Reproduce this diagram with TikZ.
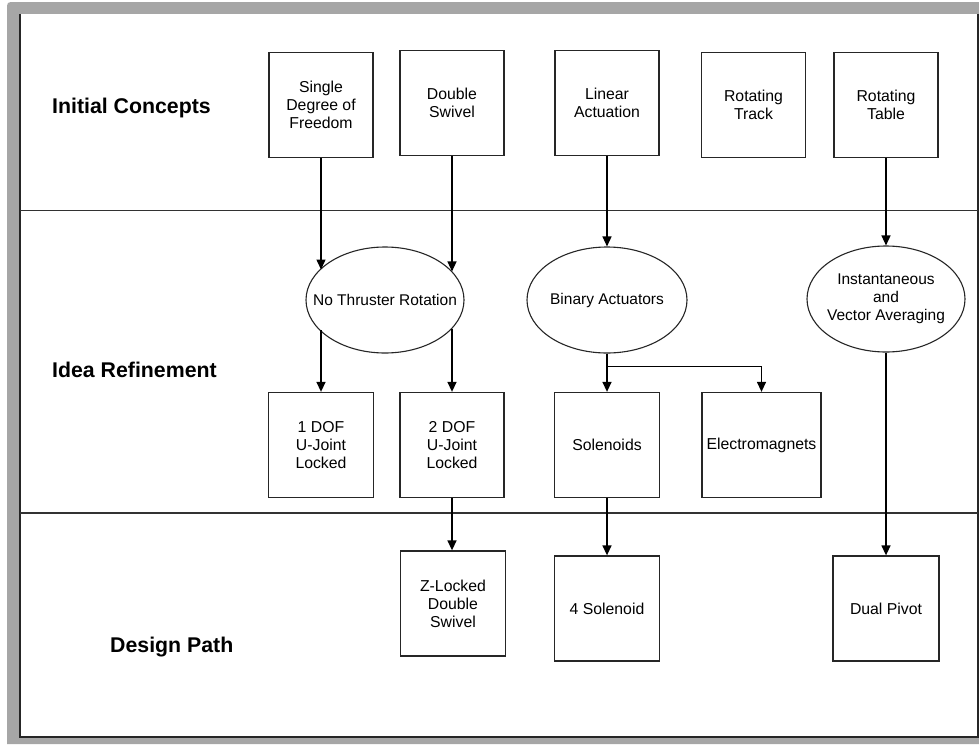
\documentclass[tikz,border=0pt]{standalone}
\usepackage{fontspec}
\setmainfont{Liberation Sans}
\usetikzlibrary{arrows.meta,shapes.geometric}
\definecolor{framegray}{RGB}{166,166,166}
\definecolor{lanegray}{RGB}{50,50,50}
\tikzset{
  stepbox/.style={draw=black!85, line width=1.3pt, rectangle, minimum width=104pt, minimum height=105pt,
    inner sep=2pt, align=center, font=\fontsize{15.8}{18}\selectfont},
  oval/.style={draw=black!85, line width=1.1pt, ellipse, inner sep=0pt, minimum width=158pt, minimum height=106pt},
  ovaltext/.style={align=center, inner sep=0pt, font=\fontsize{15.5}{18}\selectfont},
  lanelabel/.style={anchor=west, inner sep=0pt, font=\fontsize{21.3}{25}\selectfont\bfseries},
  laneline/.style={draw=lanegray, line width=1.5pt},
  arr/.style={draw=black, line width=1.4pt, -{Triangle[length=10pt,width=9pt]}}
}
\begin{document}
\begin{tikzpicture}[x=1pt,y=-1pt]
\useasboundingbox (0,0) rectangle (979,744);
% frame
\fill[framegray] (7,744) -- (7,10) .. controls (7,2) .. (15,2) -- (979,2) -- (979,744) -- cycle;
\fill[white] (20,14) rectangle (978,737);
\draw[black!85, line width=1.3pt] (20,14) -- (20,737) -- (978,737) -- (978,14);
% lanes
\draw[laneline] (20,210.5) -- (978,210.5);
\draw[laneline] (20,513) -- (978,513);
\node[lanelabel] (l1) at (52,108) {Initial Concepts};
\node[lanelabel] (l2) at (52,370) {Idea Refinement};
\node[lanelabel] (l3) at (110,647) {Design Path};
% row 1
\node[stepbox] (sdf) at (321,105) {Single\\Degree of\\Freedom};
\node[stepbox] (dsw) at (452,103) {Double\\Swivel};
\node[stepbox] (lin) at (607,103) {Linear\\Actuation};
\node[stepbox] (rtr) at (753.5,105) {Rotating\\Track};
\node[stepbox] (rtb) at (886,105) {Rotating\\Table};
% row 2 ellipses
\node[oval] (ntr) at (385,300) {};
\node[ovaltext] (ntrt) at (ntr) {No Thruster Rotation};
\node[oval, minimum width=160pt] (bin) at (607,300) {};
\node[ovaltext] (bint) at (bin) {Binary Actuators};
\node[oval] (ins) at (886,299) {};
\node[ovaltext] (inst) at (ins) {Instantaneous\\and\\Vector Averaging};
% row 2 boxes
\node[stepbox, minimum width=105pt] (dof1) at (321,445) {1 DOF\\U-Joint\\Locked};
\node[stepbox] (dof2) at (452,445) {2 DOF\\U-Joint\\Locked};
\node[stepbox, minimum width=105pt] (sol) at (607,445) {Solenoids};
\node[stepbox, minimum width=119pt] (ele) at (761.5,445) {Electromagnets};
% row 3
\node[stepbox, minimum width=105pt] (zld) at (453,603.5) {Z-Locked\\Double\\Swivel};
\node[stepbox, minimum width=105pt] (sol4) at (607,608.5) {4 Solenoid};
\node[stepbox, minimum width=106pt] (dpv) at (886,608.5) {Dual Pivot};
% connectors
\draw[arr] (sdf.south) -- (sdf.south |- ntr.155);
\draw[arr] (dsw.south) -- (dsw.south |- ntr.23);
\draw[arr] (dof1.north |- ntr.205) -- (dof1.north);
\draw[arr] (dof2.north |- ntr.-23) -- (dof2.north);
\draw[arr] (lin.south) -- (bin.north);
\draw[arr] (bin.south) -- (sol.north);
\draw[arr] (bin.south) -- ([yshift=-13pt]bin.south) -| (ele.north);
\draw[arr] (rtb.south) -- (ins.north);
\draw[arr] (ins.south) -- (dpv.north);
\draw[arr] (dof2.south) -- (dof2.south |- zld.north);
\draw[arr] (sol.south) -- (sol4.north);
\end{tikzpicture}
\end{document}
